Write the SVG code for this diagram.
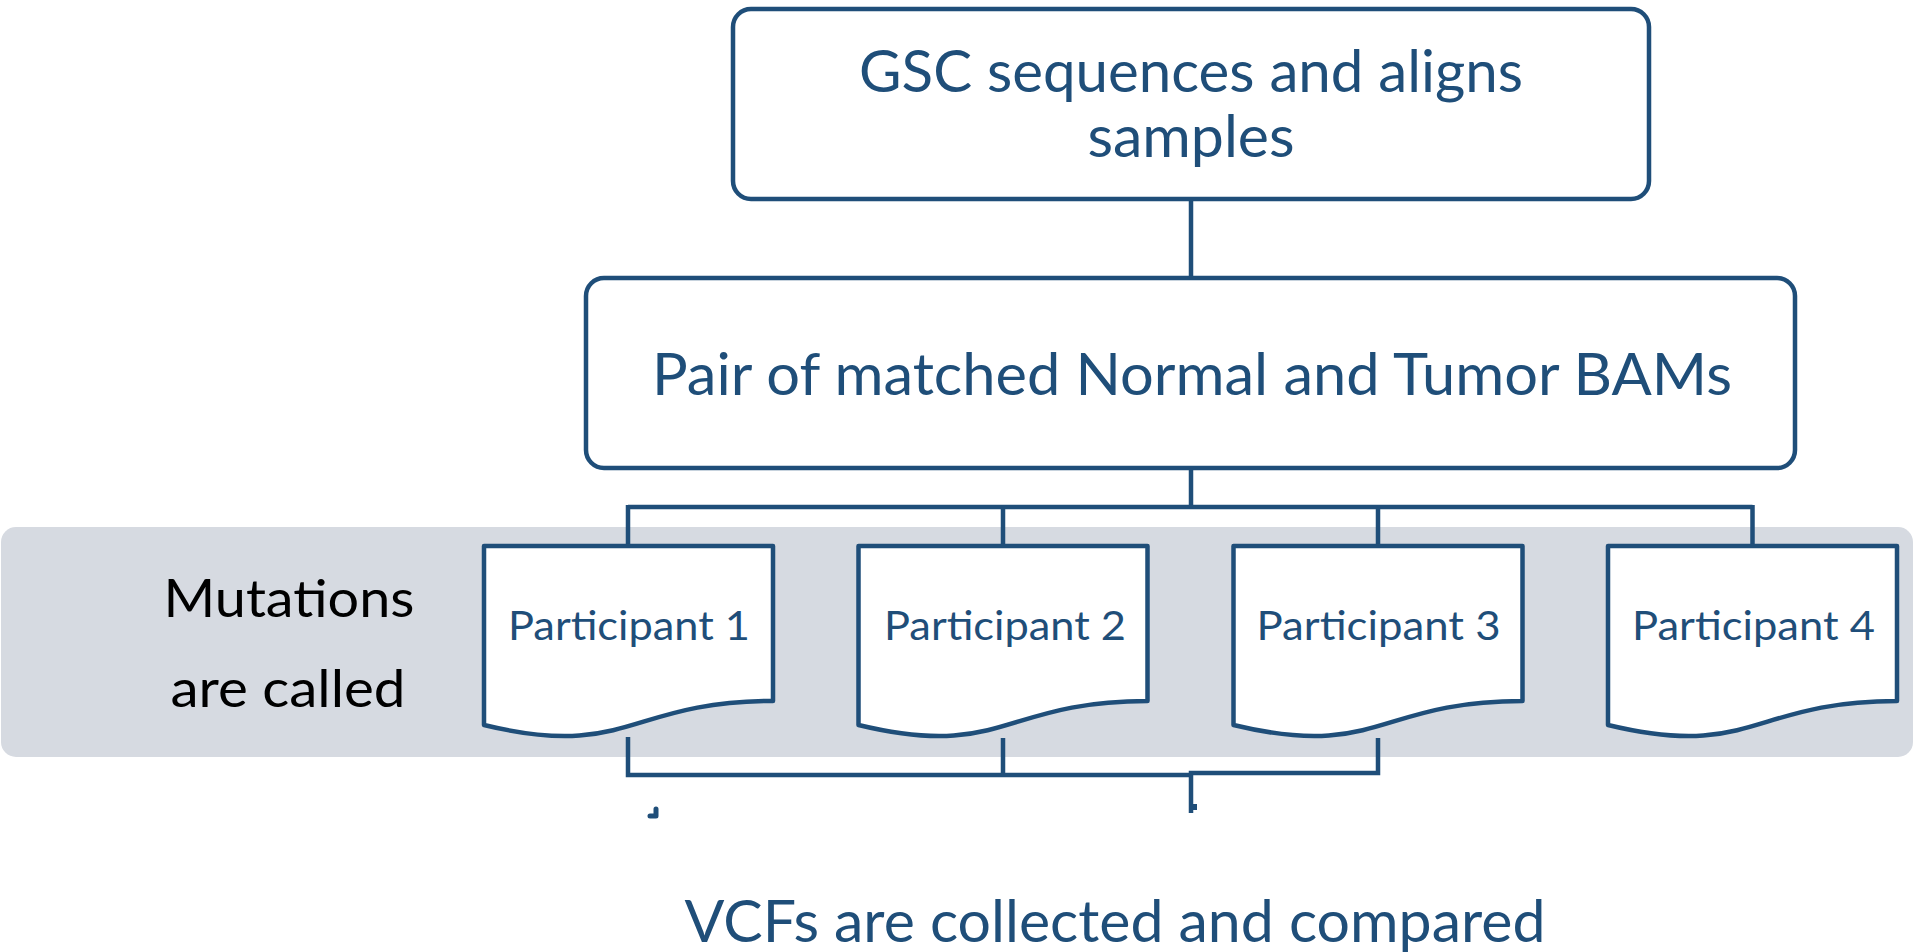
<svg xmlns="http://www.w3.org/2000/svg" width="1915" height="952" viewBox="0 0 1915 952">
<style>
.box{fill:#fff;stroke:#1F4E79;stroke-width:4.5}
.doc{fill:#fff;stroke:#1F4E79;stroke-width:4.5;stroke-linejoin:round}
.conn{fill:none;stroke:#1F4E79;stroke-width:4.5}
.t{font-family:Lato,"Liberation Sans",sans-serif;fill:#1F4E79;text-anchor:middle}
.big{font-size:59px}
.p{font-size:41px}
.lab{font-family:Lato,"Liberation Sans",sans-serif;fill:#000;text-anchor:middle;font-size:52px}
</style>
<rect width="1915" height="952" fill="#fff"/>
<rect id="band" x="1" y="527" width="1912" height="230" rx="15" fill="#D6DAE1"/>
<g id="connectors">
<path class="conn" d="M1191,199 V278"/>
<path class="conn" d="M1191,468 V507"/>
<path class="conn" d="M628,507 H1752.5 M628,505 V546 M1003,507 V546 M1378,507 V546 M1752.5,505 V546"/>
<path class="conn" d="M628,737 V775 H1191 M1003,738 V775"/>
<path class="conn" d="M1378,738 V773 H1191 V813"/>
<rect x="1192" y="804" width="5" height="6" fill="#1F4E79"/>
<path d="M656,809 V816 H650" fill="none" stroke="#1F4E79" stroke-width="5" stroke-linecap="round" stroke-linejoin="round"/>
</g>
<g id="node-gsc">
<rect class="box" x="733" y="9" width="916" height="190" rx="18"/>
<text class="t big" x="1191" y="92" textLength="664" lengthAdjust="spacingAndGlyphs">GSC sequences and aligns</text>
<text class="t big" x="1191" y="157" textLength="207" lengthAdjust="spacingAndGlyphs">samples</text>
</g>
<g id="node-bams">
<rect class="box" x="586" y="278" width="1209" height="190" rx="18"/>
<text class="t big" x="1192" y="395" textLength="1080" lengthAdjust="spacingAndGlyphs">Pair of matched Normal and Tumor BAMs</text>
</g>
<g id="node-label">
<text class="lab" x="289" y="617" textLength="251" lengthAdjust="spacingAndGlyphs">Mutations</text>
<text class="lab" x="288" y="707" textLength="235" lengthAdjust="spacingAndGlyphs">are called</text>
</g>
<g id="node-p1">
<path class="doc" d="M484,546 H773 V701 C628.5,701 628.5,760 484,725 Z"/>
<text class="t p" x="629" y="640" textLength="242" lengthAdjust="spacingAndGlyphs">Participant 1</text>
</g>
<g id="node-p2">
<path class="doc" d="M858.5,546 H1147.5 V701 C1003,701 1003,760 858.5,725 Z"/>
<text class="t p" x="1005" y="640" textLength="242" lengthAdjust="spacingAndGlyphs">Participant 2</text>
</g>
<g id="node-p3">
<path class="doc" d="M1233.5,546 H1522.5 V701 C1378,701 1378,760 1233.5,725 Z"/>
<text class="t p" x="1378.5" y="640" textLength="244" lengthAdjust="spacingAndGlyphs">Participant 3</text>
</g>
<g id="node-p4">
<path class="doc" d="M1608,546 H1897 V701 C1752.5,701 1752.5,760 1608,725 Z"/>
<text class="t p" x="1753.5" y="640" textLength="243" lengthAdjust="spacingAndGlyphs">Participant 4</text>
</g>
<g id="node-vcf">
<text class="t big" x="1115" y="942" textLength="861" lengthAdjust="spacingAndGlyphs">VCFs are collected and compared</text>
</g>
</svg>
